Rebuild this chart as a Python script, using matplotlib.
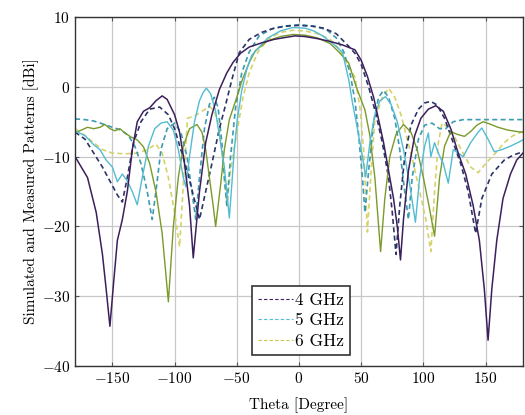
import numpy as np
import matplotlib.pyplot as plt

plt.rcParams['font.family'] = ['cmr10', 'DejaVu Serif']
plt.rcParams['mathtext.fontset'] = 'cm'
plt.rcParams['axes.formatter.use_mathtext'] = True

# 4 GHz measured (solid)
th_4m = [-180, -170, -163, -158, -155, -152, -149, -146, -142, -138, -134, -130, -125, -120, -115,
         -110, -106, -100, -96, -92, -88, -85, -80, -75, -70, -64, -58, -53, -47, -40, -30, -20, -10,
         -3, 5, 15, 25, 35, 45, 50, 55, 60, 64, 68, 72, 76, 79, 81.6, 84, 88, 93, 98, 104, 110, 116,
         122, 128, 134, 140, 145, 149, 152, 155, 159, 164, 170, 175, 180]
db_4m = [-10.0, -13, -18, -24, -29, -34.3, -28, -22, -19, -15, -9, -5, -3.5, -3, -2, -1.3, -1.8, -4,
         -6.5, -11, -17, -24.5, -15, -8, -4, -0.4, 2, 3.5, 4.8, 5.7, 6.3, 6.8, 7.1, 7.3, 7.2, 6.9, 6.5,
         6.0, 5.3, 3.8, 1.5, -1.5, -4.7, -8, -12, -16, -20, -24.8, -19, -12, -7, -4.5, -3.2, -2.7,
         -3.5, -6, -9.5, -12.5, -17, -22, -29, -36.3, -29, -22, -16, -12.5, -10.5, -9.5]

# 4 GHz simulated (dashed)
th_4s = [-180, -172, -165, -158, -152, -146, -142, -138, -133, -127, -120, -112, -105, -100, -95,
         -90, -85, -80, -75, -70, -64, -58.6, -54, -48, -40, -30, -20, -10, 0, 10, 20, 30, 40, 45,
         50, 56, 62, 67, 72, 75, 78, 81, 85, 90, 96, 101, 106, 111, 117, 124, 130, 136, 142, 147,
         155, 165, 172, 180]
db_4s = [-6.5, -7.5, -9.5, -11.5, -13.5, -15.5, -16.5, -13, -8, -5, -3.2, -2.9, -4.0, -6, -9, -12,
         -15.5, -19, -15, -11, -6, -2.3, 1, 4.9, 6.8, 7.8, 8.4, 8.7, 8.8, 8.7, 8.4, 7.6, 5.8, 4.8,
         3.2, 0, -4, -8, -13, -18, -24, -17, -10, -5.5, -3.2, -2.3, -2.1, -2.6, -4.5, -8, -11, -15,
         -21, -16, -12.5, -10.5, -9.8, -9.3]

# 5 GHz measured (solid)
th_5m = [-180, -172, -165, -160, -155, -150, -146, -142, -138, -134, -130, -126, -121, -116, -111,
         -106, -101, -97, -93, -91, -88, -84, -80, -77, -74.4, -71, -67, -64, -60, -58, -56, -54,
         -52, -49.6, -46, -42, -38, -32, -25, -15, -5, 5, 12, 20, 27, 31, 35, 40, 43, 47, 51, 53.6,
         57, 61, 65, 69.6, 74, 79, 84, 89, 93.6, 97, 101, 104, 106, 109, 112, 116, 120, 124, 128,
         132, 138, 144, 147, 152, 157, 163, 170, 178, 180]
db_5m = [-6.3, -7, -8.3, -9, -10.5, -11.5, -13.6, -12.5, -13.5, -15, -16.9, -13, -8.5, -6, -5.2,
         -5.0, -6.2, -9, -13, -14.3, -10, -5, -2, -0.8, -0.2, -1, -3.5, -7, -11.5, -15, -18.8, -14,
         -9, -4.7, -0.5, 2.5, 4.5, 5.7, 7, 8, 8.5, 8.4, 8, 7.2, 6.2, 5.6, 4.9, 1, -2.3, -6, -10,
         -12.9, -8, -4, -2, -1.4, -2.5, -5, -9, -14, -19.4, -13, -8.5, -6.6, -10, -8, -9.5, -11,
         -13.8, -9, -9.5, -10, -8, -6.5, -5.9, -7.5, -9.3, -9, -8.5, -7.8, -7.6]

# 5 GHz simulated (dashed)
th_5s = [-180, -172, -165, -158, -150, -143, -137, -132, -127, -122, -118, -115, -111, -106, -100,
         -95, -90, -86, -83, -80, -76, -72, -68, -65, -62, -60, -58, -55, -51, -46, -40, -32, -22,
         -12, 0, 12, 22, 30, 36, 41, 45, 48, 51, 53, 56, 60, 64, 68, 72, 77, 81, 85, 88, 91, 96,
         101, 107, 113, 118, 124, 132, 145, 160, 180]
db_5s = [-4.6, -4.7, -4.9, -5.3, -5.8, -6.2, -7, -8.5, -11, -15, -19, -15, -9, -6, -5.2, -6.5, -10,
         -15, -19, -13, -6, -2.5, -1.5, -3, -8, -13, -17, -10, -3, 2, 5, 7.3, 8.3, 8.7, 8.9, 8.7,
         8.2, 7, 5, 2, -2, -7, -13, -18, -12, -5, -1.5, -0.5, -1.5, -4.5, -9, -15, -19, -13, -7.5,
         -5.5, -5.2, -6, -6, -5, -4.7, -4.7, -4.7, -4.7]

# 6 GHz measured (solid)
th_6m = [-180, -175, -170, -165, -160, -156, -152, -148, -144, -140, -135, -130, -125, -120, -115,
         -110, -105, -101, -97, -93, -88, -82, -78, -75, -72, -69, -67, -63, -60, -56, -50, -45.6,
         -40, -35, -25, -15, -5, 5, 15, 25, 32, 40, 46, 53, 57, 61, 65.6, 69, 73, 78, 84, 90, 95,
         100, 105, 109, 113, 117, 122, 127, 133, 138, 143, 148, 153, 160, 168, 175, 180]
db_6m = [-6.6, -6.2, -5.8, -6, -5.8, -5.4, -6, -6.3, -6.0, -6.6, -7.2, -7.6, -8.6, -11, -15, -21,
         -30.8, -20, -13, -8.5, -6, -5.4, -6.5, -9, -13, -17, -20, -14, -9, -4.7, -1.5, 1.0, 3.5,
         5.2, 6.6, 7.2, 7.5, 7.4, 7, 6.2, 5, 3.4, 0, -3.3, -7, -13, -23.6, -16, -10, -6.8, -5.4,
         -6.5, -9, -13, -17.5, -21.4, -13, -8.5, -6.4, -6.8, -7.1, -6.4, -5.5, -5, -5.3, -5.8,
         -6.2, -6.4, -6.5]

# 6 GHz simulated (dashed)
th_6s = [-180, -172, -165, -158, -150, -140, -130, -122, -115, -110, -105, -100, -96, -93, -89.6,
         -84, -78, -72, -68, -64, -61, -58, -55, -50, -45, -40, -33, -25, -15, -5, 5, 15, 25, 32,
         38, 45, 49, 52, 55, 58, 61, 67, 72, 77, 82, 87, 92, 97, 102, 106, 109, 112, 115, 120, 126,
         132, 138, 144, 150, 158, 165, 172, 180]
db_6s = [-6.0, -7, -8, -9, -9.5, -9.6, -9.5, -9, -8.2, -9.5, -13, -18, -22.9, -14, -4.5, -4.2, -3.5,
         -2.8, -3.5, -6, -11, -17, -12, -6.6, -1.5, 2, 5, 6.8, 7.8, 8.1, 8, 7.6, 6.8, 5.5, 3.5, 1.4,
         -3, -9, -20.8, -12, -4.7, -1.5, -0.2, -1.5, -4, -7.5, -11, -15, -19, -23.6, -15, -8, -5.2,
         -5.8, -7.5, -9.5, -11.5, -12.3, -11, -9.5, -8, -7, -6.4]

c4m, c4s = '#3c1f5c', '#2d3566'
c5m, c5s = '#52bcd2', '#3b9bb0'
c6m, c6s = '#7a9a2a', '#d6d26a'

fig = plt.figure(figsize=(5.25, 4.15), dpi=100)
ax = fig.add_axes([0.143, 0.118, 0.853, 0.841])

ax.plot(th_6s, db_6s, color=c6s, lw=1.2, dashes=(3, 2))
ax.plot(th_5s, db_5s, color=c5s, lw=1.2, dashes=(3, 2))
ax.plot(th_4s, db_4s, color=c4s, lw=1.2, dashes=(3, 2))
ax.plot(th_6m, db_6m, color=c6m, lw=1.0)
ax.plot(th_5m, db_5m, color=c5m, lw=1.0)
ax.plot(th_4m, db_4m, color=c4m, lw=1.1)

h4, = ax.plot([], [], color=c4m, lw=0.8, dashes=(3, 2))
h5, = ax.plot([], [], color=c5m, lw=0.8, dashes=(3, 2))
h6, = ax.plot([], [], color='#c9c64a', lw=0.8, dashes=(3, 2))
leg = ax.legend([h4, h5, h6], ['4 GHz', '5 GHz', '6 GHz'], loc='lower left',
                bbox_to_anchor=(0.395, 0.032), borderaxespad=0, fancybox=False,
                edgecolor='#333333', framealpha=1, fontsize=12.5, handlelength=2.0,
                handletextpad=0.1, borderpad=0.35, labelspacing=0.3)
leg.get_frame().set_linewidth(1.2)

ax.set_xlim(-180, 180)
ax.set_ylim(-40, 10)
ax.set_xticks([-150, -100, -50, 0, 50, 100, 150])
ax.set_yticks([-40, -30, -20, -10, 0, 10])
ax.grid(True, color='#c8c8c8', lw=0.9)
ax.set_axisbelow(True)
ax.tick_params(direction='in', top=True, right=True, labelsize=11, length=3, color='#555555')
for s in ax.spines.values():
    s.set_linewidth(1.0)
    s.set_color('#333333')

ax.set_xlabel('Theta [Degree]', fontsize=11, labelpad=8)
ax.set_ylabel('Simulated and Measured Patterns [dBi]', fontsize=11, labelpad=2)

fig.savefig('out.png', dpi=100)
